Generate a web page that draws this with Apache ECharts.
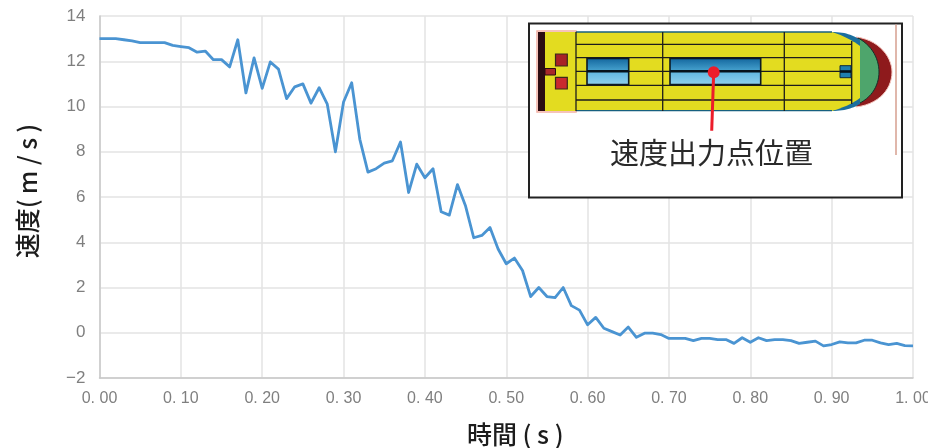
<!DOCTYPE html>
<html><head><meta charset="utf-8">
<style>html,body{margin:0;padding:0;background:#fff}#c{width:928px;height:448px}</style>
<script src="https://cdn.jsdelivr.net/npm/echarts@6/dist/echarts.min.js"></script>
</head><body><div id="c"></div>
<script>
const xTitle = '時間 ( s )';
const yTitle = '速度(\u2009m / s\u2009)';
const insetLabel = '速度出力点位置';
const speeds = [
13.0,13.0,13.0,12.95,12.9,12.82,12.82,12.82,12.82,12.7,
12.65,12.6,12.4,12.45,12.07,12.07,11.75,12.95,10.6,12.15,
10.8,11.97,11.65,10.35,10.87,11.0,10.15,10.83,10.1,8.0,
10.2,11.05,8.55,7.1,7.25,7.5,7.6,8.43,6.2,7.45,
6.85,7.25,5.35,5.2,6.55,5.6,4.2,4.3,4.65,3.7,
3.05,3.3,2.75,1.6,2.0,1.6,1.55,2.0,1.2,1.0,
0.35,0.68,0.2,0.05,-0.1,0.25,-0.2,-0.02,-0.02,-0.08,
-0.25,-0.25,-0.25,-0.35,-0.25,-0.25,-0.3,-0.3,-0.47,-0.22,
-0.42,-0.22,-0.35,-0.3,-0.3,-0.35,-0.47,-0.42,-0.37,-0.58,
-0.52,-0.4,-0.45,-0.45,-0.33,-0.33,-0.45,-0.52,-0.47,-0.57,-0.58];
const timeStep = 0.01;
const pairs = speeds.map((v,i)=>[+(i*timeStep).toFixed(2),v]);

const chart = echarts.init(document.getElementById('c'),null,{renderer:'canvas'});
const dk='#1c1c1c', numFont='"Liberation Sans",sans-serif', jp='"Noto Sans CJK JP",sans-serif';
const rect=(x1,y1,x2,y2,style)=>({type:'rect',shape:{x:x1,y:y1,width:x2-x1,height:y2-y1},style});
const hl=(y,x1,x2,w,c)=>({type:'line',shape:{x1,y1:y,x2,y2:y},style:{stroke:c||dk,lineWidth:w||1.3}});
const vl=(x,y1,y2,w,c)=>({type:'line',shape:{x1:x,y1,x2:x,y2},style:{stroke:c||dk,lineWidth:w||1.3}});
const grad=(a,b)=>({type:'linear',x:0,y:0,x2:0,y2:1,colorStops:[{offset:0,color:a},{offset:1,color:b}]});
const cubic=(p0,c1,c2,p1,n=14)=>{const o=[];for(let i=0;i<=n;i++){const t=i/n,u=1-t;
  o.push([u*u*u*p0[0]+3*u*u*t*c1[0]+3*u*t*t*c2[0]+t*t*t*p1[0],u*u*u*p0[1]+3*u*u*t*c1[1]+3*u*t*t*c2[1]+t*t*t*p1[1]]);}return o;};
const poly=(points,style)=>({type:'polygon',shape:{points},style});
const win=(x1,x2)=>[
  rect(x1,58.5,x2,71,{fill:grad('#14689f','#47a3cf')}),
  rect(x1,71,x2,84.5,{fill:grad('#5db5df','#8fd0ec')}),
  rect(x1,58.5,x2,84.5,{fill:'none',stroke:'#0d1a22',lineWidth:1.6}),
  hl(71.3,x1,x2,2.6,'#06121a')
];
const inset=[
  rect(529,23.5,902,197.5,{fill:'#fff',stroke:'#222',lineWidth:2}),
  vl(896,24.5,155,1.6,'#d9a596'),
  rect(537,31,576,112,{fill:'#fff',stroke:'#f4b0a4',lineWidth:1.5}),
  poly([...cubic([856,37],[880,40],[892,58],[892,72]),...cubic([892,72],[892,88],[880,104],[856,107])],{fill:'#8e1a1c',stroke:'#f5c4bc',lineWidth:1}),
  poly([...cubic([858,38],[873,46],[879,60],[879,72]),...cubic([879,72],[879,84],[873,97],[858,104])],{fill:'#4ea56c',stroke:'#15302a',lineWidth:1}),
  poly([...cubic([832,32],[845,32],[853,35],[860,40]),...cubic([860,104],[853,108],[845,111],[832,111])],{fill:'#1a6f9e'}),
  poly([[545,32],...cubic([832,32],[842,35],[852,40],[860,46]),...cubic([860,98],[852,104],[842,108],[832,111]),[545,111]],{fill:'#e3dc20'}),
  rect(538,32,545,111,{fill:'#2c0c12'}),
  hl(32,576,832,1.3,'#17607f'),hl(110.7,576,832,1.3,'#17607f'),
  hl(44.3,576,852),hl(57.7,576,852),hl(71.3,576,852),hl(85.3,576,852),hl(100,576,852),
  vl(576,32,111),vl(662.7,32,111),vl(784.3,32,111),vl(851.7,41,104),
  ...win(587,628.7),...win(670,760.7),
  rect(840,65.7,851,77.7,{fill:'#1f7fae',stroke:'#0d2a3a',lineWidth:1}),
  hl(71.5,840,851,2.6,'#06121a'),
  rect(555.5,54,567.3,66,{fill:'#a82226',stroke:'#3a2a1a',lineWidth:1.2}),
  rect(555.5,77.3,567.3,89,{fill:'#c92a2e',stroke:'#3a2a1a',lineWidth:1.2}),
  rect(545,68.5,555.5,75,{fill:'#a8282a',stroke:'#2a0c10',lineWidth:1}),
  {type:'line',shape:{x1:713.7,y1:72.3,x2:711.7,y2:130.7},style:{stroke:'#ec1c2a',lineWidth:3}},
  {type:'circle',shape:{cx:713.7,cy:72.3,r:6},style:{fill:'#ec1c2a'}},
  {type:'text',x:711.5,y:152.7,style:{text:insetLabel,fill:'#2a2a2a',font:'29px '+jp,align:'center',verticalAlign:'middle'}}
];
inset.forEach(e=>{e.z=100;});
chart.setOption({
  animation:false,
  backgroundColor:'#fff',
  grid:{left:99.5,right:15,top:16,bottom:70,outerBoundsMode:'none',containLabel:false},
  xAxis:{type:'value',min:0,max:1,interval:0.1,
    axisLine:{onZero:false,show:true,lineStyle:{color:'#c8c8c8',width:1.5}},axisTick:{show:false},
    splitLine:{show:true,lineStyle:{color:'#e3e3e3',width:1.5}},
    axisLabel:{color:'#7f7f7f',fontFamily:numFont,fontSize:16,margin:13,
      formatter:v=>v.toFixed(2).replace('.','. '),hideOverlap:false,showMinLabel:true,showMaxLabel:true},
    name:xTitle,nameLocation:'middle',nameGap:44,
    nameTextStyle:{color:dk,fontFamily:jp,fontSize:25,fontWeight:500,padding:[0,0,0,18]}},
  yAxis:{type:'value',min:-2,max:14,interval:2,
    axisLine:{show:true,onZero:false,lineStyle:{color:'#c8c8c8',width:1.5}},axisTick:{show:false},
    splitLine:{show:true,lineStyle:{color:'#e3e3e3',width:1.5}},
    axisLabel:{color:'#7f7f7f',fontFamily:numFont,fontSize:17,margin:14,
      formatter:v=>v<0?'−'+(-v):''+v},
    name:yTitle,nameLocation:'middle',nameGap:59,
    nameTextStyle:{color:dk,fontFamily:jp,fontSize:25,fontWeight:500,padding:[0,0,0,12]}},
  series:[{type:'line',data:pairs,symbol:'none',smooth:false,
    lineStyle:{color:'#4a94d2',width:2.8,join:'round'}}],
  graphic:[{type:'group',children:inset}]
});
</script></body></html>
